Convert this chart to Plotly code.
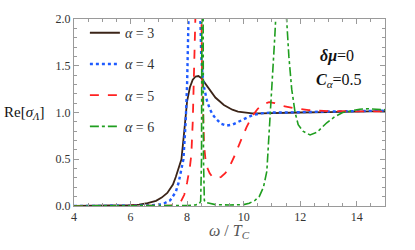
import plotly.graph_objects as go

# alpha = 3 (solid)
x3 = [4, 5, 5.5, 6, 6.3, 6.6, 6.9, 7.1, 7.3, 7.5, 7.6, 7.7, 7.8, 7.9, 7.95, 8.0, 8.1, 8.2, 8.3, 8.4,
      8.5, 8.6, 8.8, 9.0, 9.3, 9.6, 9.8, 10.0, 10.3, 10.6, 11, 12, 13, 14, 15]
y3 = [0, 0.001, 0.003, 0.008, 0.015, 0.03, 0.055, 0.09, 0.14, 0.23, 0.31, 0.4, 0.5, 0.8, 1.0, 1.12,
      1.27, 1.35, 1.385, 1.39, 1.37, 1.33, 1.24, 1.16, 1.08, 1.03, 1.01, 1.0, 0.99, 0.99, 0.995,
      1.0, 1.005, 1.01, 1.015]

# alpha = 4 (dotted)
x4 = [4, 6, 6.5, 7.0, 7.2, 7.4, 7.6, 7.7, 7.8, 7.87, 7.95, 8.0, 8.05, 8.1, 8.2, 8.3, 8.38, 8.42,
      8.46, 8.5, 8.55, 8.6, 8.7, 8.8, 8.9, 9.0, 9.2, 9.4, 9.6, 9.8, 10.0, 10.3, 10.6, 11, 11.5,
      12, 13, 14, 15]
y4 = [0, 0.001, 0.004, 0.015, 0.03, 0.06, 0.15, 0.25, 0.38, 0.5, 0.9, 1.3, 2.0, 2.6, 3.3, 3.5,
      3.2, 2.6, 2.0, 1.6, 1.38, 1.27, 1.13, 1.04, 0.98, 0.94, 0.88, 0.86, 0.87, 0.9, 0.93, 0.97,
      0.99, 1.0, 1.0, 1.005, 1.01, 1.015, 1.02]

# alpha = 5 (dashed)
x5 = [4, 7.0, 7.4, 7.6, 7.8, 7.9, 8.0, 8.1, 8.15, 8.2, 8.25, 8.3, 8.35, 8.4, 8.45, 8.5, 8.53,
      8.56, 8.6, 8.65, 8.7, 8.8, 8.9, 9.0, 9.1, 9.2, 9.35, 9.5, 9.7, 9.9, 10.1, 10.3, 10.5, 10.7,
      10.9, 11.1, 11.4, 11.8, 12.3, 13, 14, 15]
y5 = [0, 0.001, 0.005, 0.015, 0.06, 0.12, 0.25, 0.42, 0.55, 0.9, 1.5, 2.3, 3.0, 3.3, 3.0, 2.3,
      1.4, 0.9, 0.65, 0.5, 0.42, 0.35, 0.31, 0.3, 0.3, 0.31, 0.35, 0.42, 0.55, 0.7, 0.84, 0.96,
      1.04, 1.09, 1.11, 1.1, 1.07, 1.045, 1.025, 1.015, 1.01, 1.01]

# alpha = 6 (dash-dot)
x6 = [4, 7.5, 8.0, 8.3, 8.42, 8.48, 8.51, 8.53, 8.56, 8.58, 8.61, 8.64, 8.7, 8.8, 9.0, 9.5, 10.0,
      10.2, 10.4, 10.55, 10.7, 10.82, 10.93, 11.0, 11.1, 11.2, 11.3, 11.4, 11.5, 11.6, 11.7, 11.82,
      11.93, 12.1, 12.35, 12.6, 12.94, 13.2, 13.5, 13.8, 14.1, 14.4, 14.7, 15]
y6 = [0, 0.002, 0.006, 0.012, 0.02, 0.05, 0.5, 3.0, 3.0, 0.5, 0.06, 0.04, 0.035, 0.025, 0.015,
      0.01, 0.015, 0.03, 0.06, 0.1, 0.2, 0.37, 0.89, 1.25, 1.8, 2.4, 2.8, 2.6, 2.1, 1.6, 1.25, 1.0,
      0.87, 0.8, 0.76, 0.79, 0.89, 0.95, 1.0, 1.02, 1.035, 1.04, 1.035, 1.03]

labels = ["3", "4", "5", "6"]

series = [
    (x3, y3, labels[0], "#3b2418", "solid", 1.8),
    (x4, y4, labels[1], "#1f5bff", "dot", 2.4),
    (x5, y5, labels[2], "#ff2222", "dash", 1.8),
    (x6, y6, labels[3], "#1f9e1f", "dashdot", 1.6),
]

fig = go.Figure()
for i, (xs, ys, lab, col, dash, w) in enumerate(series):
    fig.add_trace(go.Scatter(
        x=xs, y=ys, mode="lines", name="<i>α</i> = " + lab,
        line=dict(color=col, dash=dash, width=w),
        legendgroup=str(i),
    ))

axis_common = dict(
    showline=True, linecolor="#9a9a9a", linewidth=1, mirror="ticks",
    ticks="inside", ticklen=5, tickcolor="#9a9a9a", showgrid=False, zeroline=False,
    tickfont=dict(family="Liberation Serif", size=12, color="#333333"),
)

fig.update_layout(
    width=415, height=250,
    margin=dict(l=74, r=30, t=13, b=44),
    paper_bgcolor="white", plot_bgcolor="white",
    xaxis=dict(range=[4, 15], tick0=4, dtick=2, **axis_common,
               minor=dict(dtick=0.5, ticklen=3, ticks="inside", tickcolor="#9a9a9a", showgrid=False)),
    yaxis=dict(range=[0, 2], tick0=0, dtick=0.5, tickformat=".1f", **axis_common,
               minor=dict(dtick=0.1, ticklen=3, ticks="inside", tickcolor="#9a9a9a", showgrid=False)),
    showlegend=True,
    legend=dict(x=0.035, y=1.01, xanchor="left", yanchor="top", maxheight=240,
                bgcolor="rgba(0,0,0,0)", tracegroupgap=10,
                font=dict(family="Liberation Serif", size=14, color="#333333")),
    font=dict(family="Liberation Serif"),
)

fig.add_annotation(text="Re[<i>σ</i><sub><i>Λ</i></sub>]", xref="paper", yref="paper",
                   x=-0.232, y=0.5, xanchor="left", yanchor="middle", showarrow=False,
                   font=dict(family="Liberation Serif", size=15, color="#111111"))
fig.add_annotation(text="<i>ω</i> / <i>T</i><sub><i>C</i></sub>", xref="paper", yref="paper",
                   x=0.5, y=-0.135, xanchor="center", yanchor="middle", showarrow=False,
                   font=dict(family="Liberation Serif", size=16, color="#555555"))
fig.add_annotation(text="<b><i>δμ</i></b>=0", xref="paper", yref="paper",
                   x=0.845, y=0.8, xanchor="center", yanchor="middle", showarrow=False,
                   font=dict(family="Liberation Serif", size=16, color="#111111"))
fig.add_annotation(text="<b><i>C</i></b><sub><i>α</i></sub>=0.5", xref="paper", yref="paper",
                   x=0.852, y=0.67, xanchor="center", yanchor="middle", showarrow=False,
                   font=dict(family="Liberation Serif", size=16, color="#111111"))

fig.write_html("out.html", config={"displayModeBar": False},
               post_script="document.body.style.margin='0px';")
